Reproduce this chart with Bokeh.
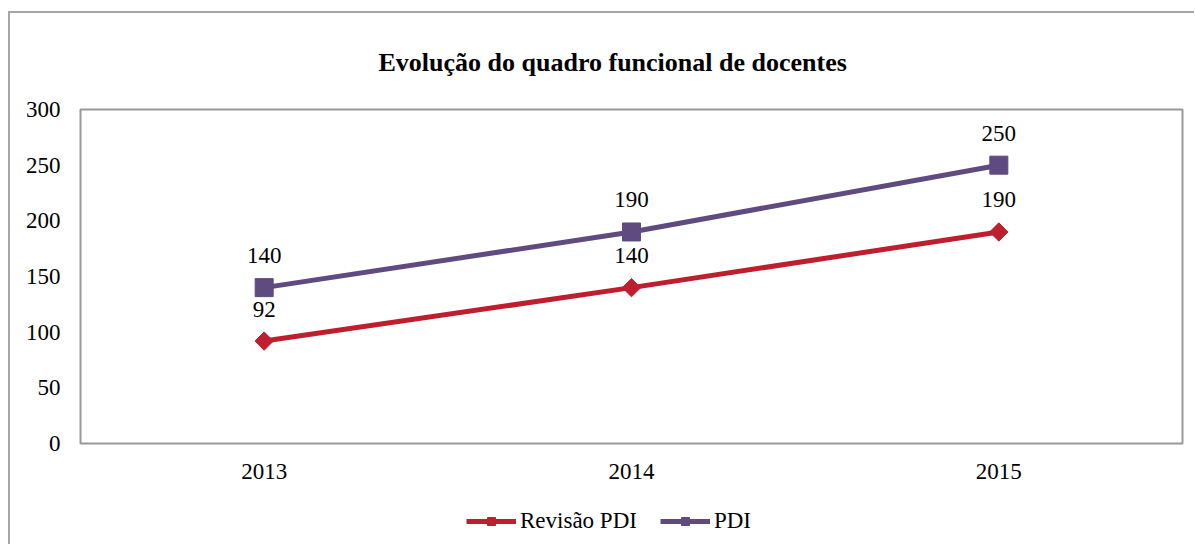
import math
from bokeh.plotting import figure
from bokeh.layouts import column
from bokeh.models import (ColumnDataSource, LabelSet, Legend, LegendItem, FixedTicker, Range1d)
from bokeh.embed import file_html
from bokeh.resources import INLINE

years = ["2013", "2014", "2015"]
revisao_pdi = [92, 140, 190]
pdi = [140, 190, 250]
y_ticks = [0, 50, 100, 150, 200, 250, 300]
series_names = ["Revisão PDI", "PDI"]

RED = "#BE1E2D"
PURPLE = "#5F4B80"
SERIF = "Liberation Serif"
FS = "23px"

p = figure(width=1184, height=479, x_range=years, y_range=Range1d(0, 300),
           output_backend="svg", toolbar_location=None,
           min_border_left=70, min_border_right=12, min_border_top=96, min_border_bottom=49)

p.title.text = "Evolução do quadro funcional de docentes"
p.title.align = "left"
p.title.offset = 298
p.title.text_font = SERIF
p.title.text_font_size = "26px"
p.title.text_font_style = "bold"
p.title.text_color = "#000000"
p.title.standoff = 65

p.xgrid.visible = False
p.ygrid.visible = False
p.outline_line_color = "#999999"
p.outline_line_width = 2

p.yaxis.ticker = FixedTicker(ticks=y_ticks)
for ax in (p.xaxis[0], p.yaxis[0]):
    ax.axis_line_color = None
    ax.major_tick_line_color = None
    ax.minor_tick_line_color = None
    ax.major_label_text_font = SERIF
    ax.major_label_text_font_size = FS
    ax.major_label_text_color = "#000000"
p.yaxis.major_label_standoff = 14
p.xaxis.major_label_standoff = 14

src_r = ColumnDataSource(dict(x=years, y=revisao_pdi, t=[str(v) for v in revisao_pdi]))
src_p = ColumnDataSource(dict(x=years, y=pdi, t=[str(v) for v in pdi]))

p.line("x", "y", source=src_r, line_color=RED, line_width=5)
p.scatter("x", "y", source=src_r, marker="square", angle=math.pi / 4, size=13,
          fill_color=RED, line_color=RED)
p.line("x", "y", source=src_p, line_color=PURPLE, line_width=5)
p.scatter("x", "y", source=src_p, marker="square", size=18, fill_color=PURPLE, line_color=PURPLE)

for src in (src_r, src_p):
    p.add_layout(LabelSet(x="x", y="y", text="t", source=src, y_offset=32,
                          text_align="center", text_baseline="middle",
                          text_font=SERIF, text_font_size=FS, text_color="#000000"))

# legend strip (dummy renderers lie outside the visible range)
lg = figure(width=1184, height=52, output_backend="svg", toolbar_location=None,
            min_border_left=0, min_border_right=0, min_border_top=0, min_border_bottom=0,
            x_range=Range1d(0, 1), y_range=Range1d(0, 1))
lg.axis.visible = False
lg.grid.visible = False
lg.outline_line_color = None
hx, hy = [10, 11], [10, 11]
lr = lg.line(x=hx, y=hy, line_color=RED, line_width=5)
mr = lg.scatter(x=hx, y=hy, marker="square", angle=math.pi / 4, size=13, fill_color=RED, line_color=RED)
lp = lg.line(x=hx, y=hy, line_color=PURPLE, line_width=5)
mp = lg.scatter(x=hx, y=hy, marker="square", size=18, fill_color=PURPLE, line_color=PURPLE)
legend = Legend(items=[LegendItem(label=series_names[0], renderers=[lr, mr]),
                       LegendItem(label=series_names[1], renderers=[lp, mp])],
                orientation="horizontal", location=(386, 10),
                label_text_font=SERIF, label_text_font_size=FS, label_text_color="#000000",
                glyph_width=50, glyph_height=20, label_standoff=4, spacing=23,
                border_line_color=None, background_fill_alpha=0, margin=0, padding=0)
lg.add_layout(legend)

layout = column(p, lg, spacing=0)
layout.styles = {"margin-left": "8px", "margin-top": "11px",
                 "border-left": "2px solid #A6A6A6", "border-top": "2px solid #A6A6A6"}

open("out.html", "w").write(file_html(layout, INLINE))
